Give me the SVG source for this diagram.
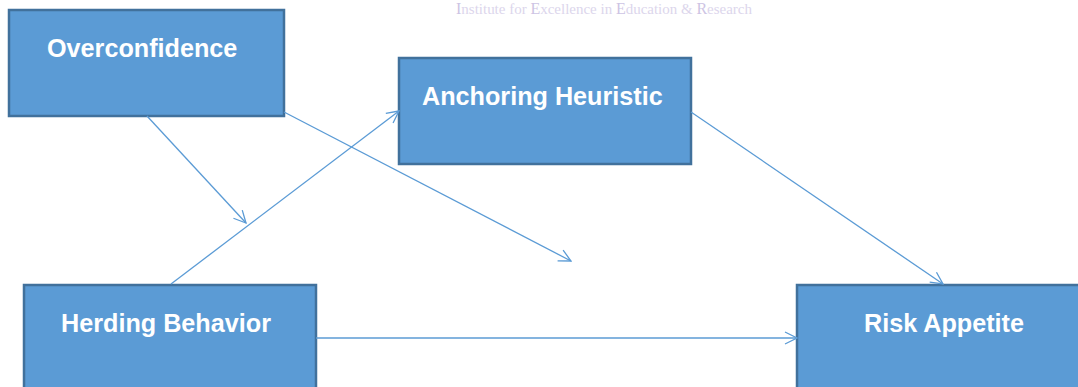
<svg xmlns="http://www.w3.org/2000/svg" width="1078" height="387" viewBox="0 0 1078 387">
<style>
.box{fill:#5B9BD5;stroke:#41719C;stroke-width:2.5}
.lbl{font-family:"Liberation Sans",Arial,sans-serif;font-weight:bold;font-size:25.2px;fill:#ffffff}
.wm{font-family:"Liberation Serif","Times New Roman",serif;font-size:15px;fill:#dcd6ec}
.wm tspan.c{fill:#cdc4e4;font-size:16px}
.conn{stroke:#5B9BD5;stroke-width:1.3;fill:none;marker-end:url(#ah)}
</style>
<defs>
<marker id="ah" viewBox="0 0 14 14" refX="13" refY="7" markerWidth="14" markerHeight="14" markerUnits="userSpaceOnUse" orient="auto">
<path d="M1,1 L13,7 L1,13" fill="none" stroke="#5B9BD5" stroke-width="1.3"/>
</marker>
</defs>
<rect width="1078" height="387" fill="#ffffff"/>
<text class="wm" x="456" y="14" textLength="296" lengthAdjust="spacingAndGlyphs"><tspan class="c">I</tspan>nstitute for <tspan class="c">E</tspan>xcellence in <tspan class="c">E</tspan>ducation &amp; <tspan class="c">R</tspan>esearch</text>
<g id="overconfidence">
<rect class="box" x="9" y="10" width="275" height="106"/>
<text class="lbl" x="47" y="57">Overconfidence</text>
</g>
<g id="anchoring">
<rect class="box" x="399" y="58" width="292" height="106"/>
<text class="lbl" x="422" y="105">Anchoring Heuristic</text>
</g>
<g id="herding">
<rect class="box" x="24" y="285" width="292" height="110"/>
<text class="lbl" x="61" y="332">Herding Behavior</text>
</g>
<g id="risk">
<rect class="box" x="797" y="285" width="300" height="110"/>
<text class="lbl" x="864" y="332">Risk Appetite</text>
</g>
<g id="connectors">
<line class="conn" x1="147" y1="116" x2="246" y2="223"/>
<line class="conn" x1="284" y1="112" x2="571" y2="261"/>
<line class="conn" x1="171" y1="284" x2="399" y2="111"/>
<line class="conn" x1="691" y1="112" x2="943" y2="284"/>
<line class="conn" x1="316" y1="338" x2="797" y2="338"/>
</g>
</svg>
